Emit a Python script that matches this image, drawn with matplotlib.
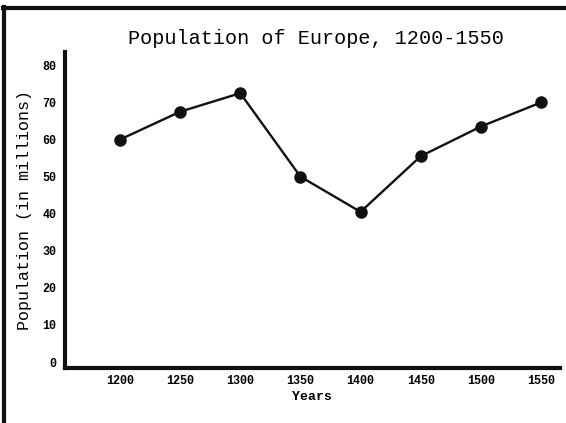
import matplotlib
matplotlib.use("Agg")
import matplotlib.pyplot as plt
from matplotlib.lines import Line2D

years = [1200, 1250, 1300, 1350, 1400, 1450, 1500, 1550]
population = [60, 67.5, 72.5, 50, 40.5, 55.5, 63.5, 70]
yticks = [0, 10, 20, 30, 40, 50, 60, 70, 80]

FONT = "Liberation Mono"

fig = plt.figure(figsize=(5.66, 4.23), dpi=100)
W, H = 566, 423
ax = fig.add_axes([65 / W, 1 - 368 / H, (560 - 65) / W, (368 - 52) / H])

ax.plot(years, population, color="#111111", lw=1.7, marker="o", ms=8,
        mfc="#111111", mec="#111111")

ax.set_xlim(1154.3, 1565.8)
ax.set_ylim(-1.6, 83.6)
ax.set_xticks(years)
ax.set_yticks(yticks)
ax.tick_params(axis="y", length=0, pad=6)
ax.tick_params(axis="x", length=0, pad=5)
for lbl in ax.get_xticklabels() + ax.get_yticklabels():
    lbl.set_fontfamily(FONT)
    lbl.set_fontsize(8.5)
    lbl.set_fontweight("bold")

for s in ["top", "right"]:
    ax.spines[s].set_visible(False)
for s in ["left", "bottom"]:
    ax.spines[s].set_linewidth(3)
    ax.spines[s].set_color("#111111")

ax.set_xlabel("Years", fontfamily=FONT, fontsize=9.5, fontweight="bold", labelpad=3)
ax.set_ylabel("Population (in millions)", fontfamily=FONT, fontsize=12,
              fontweight="normal", labelpad=8)
fig.text(316 / W, 1 - 38 / H, "Population of Europe, 1200-1550", fontfamily=FONT,
         fontsize=14.5, ha="center", va="center", color="black")

# outer frame lines (top and left)
fig.add_artist(Line2D([3 / W, 1], [1 - 8.5 / H, 1 - 8.5 / H], transform=fig.transFigure,
                      color="#111111", lw=3))
fig.add_artist(Line2D([4 / W, 4 / W], [1 - 7 / H, 1 - 421 / H], transform=fig.transFigure,
                      color="#111111", lw=3))

fig.savefig("out.png", dpi=100)
